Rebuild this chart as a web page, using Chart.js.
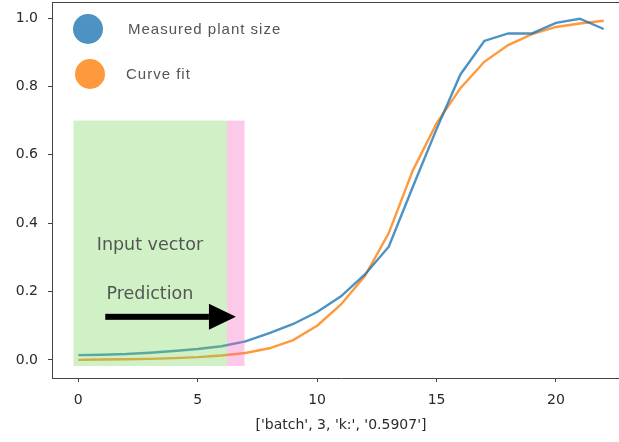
<!DOCTYPE html>
<html>
<head>
<meta charset="utf-8">
<script src="https://cdn.jsdelivr.net/npm/chart.js@4"></script>
<style>
  html, body { margin: 0; padding: 0; background: #fff; overflow: hidden; }
  #wrap { position: absolute; left: 0; top: 0; width: 640px; height: 442px; }
</style>
</head>
<body>
<div id="wrap"><canvas id="myChart" width="640" height="442"></canvas></div>
<script>
// data
const days = [0, 1, 2, 3, 4, 5, 6, 7, 8, 9, 10, 11, 12, 13, 14, 15, 16, 17, 18, 19, 20, 21, 22];
const measured = [0.014, 0.015, 0.017, 0.021, 0.026, 0.032, 0.040, 0.054, 0.078, 0.105, 0.140, 0.186, 0.250, 0.331, 0.505, 0.675, 0.835, 0.933, 0.955, 0.955, 0.986, 0.998, 0.968];
const curveFit = [0.000, 0.001, 0.002, 0.003, 0.005, 0.008, 0.013, 0.020, 0.034, 0.058, 0.100, 0.162, 0.245, 0.371, 0.553, 0.692, 0.795, 0.872, 0.921, 0.953, 0.974, 0.984, 0.992];
const xTicks = [0, 5, 10, 15, 20];
const yTicks = [0.0, 0.2, 0.4, 0.6, 0.8, 1.0];
const xAxisLabel = "['batch', 3, 'k:', '0.5907']";
const seriesNames = ["Measured plant size", "Curve fit"];

// shaded spans [x0, x1, y0, y1]
const inputSpan = [-0.2, 6.23, -0.018, 0.70];
const predSpan = [6.23, 6.96, -0.018, 0.70];
const notes = [
  { text: "Input vector", x: 3.0, y: 0.335 },
  { text: "Prediction", x: 3.0, y: 0.19 },
];
const arrowFrom = [1.13, 0.126];
const arrowTo = [6.6, 0.126];

const blue = "rgba(31, 119, 180, 0.8)";
const orange = "rgba(255, 127, 14, 0.8)";

const overlay = {
  id: "overlay",
  afterDatasetsDraw(chart) {
    const { ctx, scales: { x, y } } = chart;
    ctx.save();
    [[inputSpan, "rgba(120, 215, 90, 0.35)"], [predSpan, "rgba(250, 100, 190, 0.35)"]].forEach(([s, c]) => {
      const l = x.getPixelForValue(s[0]), r = x.getPixelForValue(s[1]);
      const t = y.getPixelForValue(s[3]), b = y.getPixelForValue(s[2]);
      ctx.fillStyle = c;
      ctx.fillRect(l, t, r - l, b - t);
    });
    ctx.fillStyle = "#555";
    ctx.font = "17.5px 'DejaVu Sans'";
    ctx.textAlign = "center";
    ctx.textBaseline = "middle";
    notes.forEach((n) => ctx.fillText(n.text, x.getPixelForValue(n.x), y.getPixelForValue(n.y)));

    // arrow
    const x0 = x.getPixelForValue(arrowFrom[0]), y0 = y.getPixelForValue(arrowFrom[1]);
    const x1 = x.getPixelForValue(arrowTo[0]);
    const headLen = 27, headHalf = 13, shaft = 3;
    ctx.fillStyle = "#000";
    ctx.fillRect(x0, y0 - shaft, x1 - headLen - x0, shaft * 2);
    ctx.beginPath();
    ctx.moveTo(x1 - headLen, y0 - headHalf);
    ctx.lineTo(x1, y0);
    ctx.lineTo(x1 - headLen, y0 + headHalf);
    ctx.closePath();
    ctx.fill();
    ctx.restore();
  },
  afterDraw(chart) {
    const { ctx, chartArea } = chart;
    ctx.save();
    // top spine
    ctx.strokeStyle = "#444";
    ctx.lineWidth = 1;
    ctx.beginPath();
    ctx.moveTo(chartArea.left, chartArea.top + 0.5);
    ctx.lineTo(chartArea.right, chartArea.top + 0.5);
    ctx.stroke();
    // legend
    const items = [[seriesNames[0], blue, 36, 27, 76], [seriesNames[1], orange, 38, 72, 74]];
    ctx.font = "15px 'Liberation Sans'";
    ctx.letterSpacing = "1px";
    ctx.textBaseline = "middle";
    ctx.textAlign = "left";
    items.forEach(([label, color, cx, cy, tx]) => {
      ctx.fillStyle = color;
      ctx.beginPath();
      ctx.arc(chartArea.left + cx, chartArea.top + cy, 15, 0, Math.PI * 2);
      ctx.fill();
      ctx.fillStyle = "#555";
      ctx.fillText(label, chartArea.left + tx, chartArea.top + cy + 1);
    });
    ctx.restore();
  },
};

function noPad(s) {
  s.paddingTop = 0;
  s.paddingBottom = 0;
  s.paddingLeft = 0;
  s.paddingRight = 0;
}

const ctx = document.getElementById("myChart").getContext("2d");
window.myChart = new Chart(ctx, {
  type: "scatter",
  data: {
    datasets: [
      {
        label: seriesNames[0],
        data: days.map((d, i) => ({ x: d, y: measured[i] })),
        borderColor: blue,
        borderWidth: 2.4,
        showLine: true,
        pointRadius: 0,
      },
      {
        label: seriesNames[1],
        data: days.map((d, i) => ({ x: d, y: curveFit[i] })),
        borderColor: orange,
        borderWidth: 2.4,
        showLine: true,
        pointRadius: 0,
      },
    ],
  },
  options: {
    responsive: false,
    animation: false,
    layout: { padding: { left: 0, top: 2, right: 10, bottom: 0 } },
    plugins: { legend: { display: false }, tooltip: { enabled: false } },
    scales: {
      x: {
        type: "linear",
        min: -1.1,
        max: 23.1,
        afterFit: (s) => { s.height = 64; noPad(s); },
        afterBuildTicks: (s) => { s.ticks = xTicks.map((v) => ({ value: v })); },
        border: { display: true, color: "#444", width: 1 },
        grid: { drawOnChartArea: false, drawTicks: true, tickLength: 4, color: "#444" },
        ticks: {
          color: "#2a2a2a",
          font: { family: "DejaVu Sans", size: 14 },
          padding: 10,
          maxRotation: 0,
          callback: (v) => String(v),
        },
        title: {
          display: true,
          text: xAxisLabel,
          color: "#2a2a2a",
          font: { family: "DejaVu Sans", size: 14 },
          padding: { top: 2, bottom: 8 },
        },
      },
      y: {
        min: -0.053,
        max: 1.047,
        afterFit: (s) => { s.width = 52; noPad(s); },
        afterBuildTicks: (s) => { s.ticks = yTicks.map((v) => ({ value: v })); },
        border: { display: true, color: "#444", width: 1 },
        grid: { drawOnChartArea: false, drawTicks: true, tickLength: 4, color: "#444" },
        ticks: {
          color: "#2a2a2a",
          font: { family: "DejaVu Sans", size: 14 },
          padding: 10,
          callback: (v) => v.toFixed(1),
        },
      },
    },
  },
  plugins: [overlay],
});
</script>
</body>
</html>
